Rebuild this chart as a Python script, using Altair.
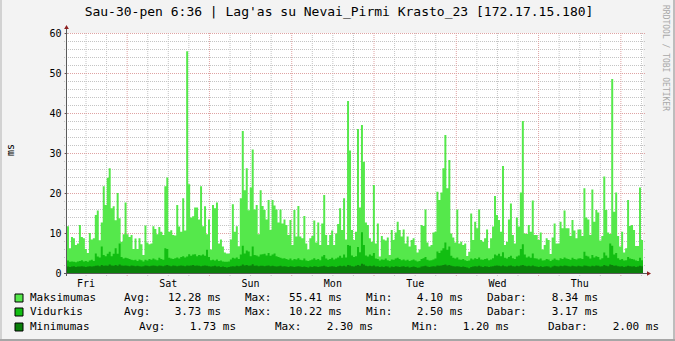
import json
import altair as alt
import pandas as pd

# ------------------------------------------------------------------ data
# round-trip latency (ms), one value per ~35 min column
MAX_1 = [11.7, 6.2, 9.0, 8.7, 7.0, 7.4, 12.0, 9.0, 8.7, 6.0, 5.0, 10.0, 8.4, 8.7, 14.5, 15.6, 8.2, 12.6, 21.7, 17.0,
         23.8, 26.2, 16.2, 16.7, 13.2, 20.0, 13.7, 7.8, 9.7, 17.6, 9.7, 9.0, 9.5, 6.0, 8.6, 6.0, 8.7, 7.2, 4.5, 11.9,
         7.6, 7.2, 7.4, 11.7, 11.0, 9.7, 11.5, 10.3, 9.5]
MAX_2 = [21.7, 23.9, 10.3, 10.7, 9.5, 9.4, 17.0, 11.6, 10.3, 18.7, 10.6, 55.41, 22.2, 13.9, 14.2, 16.4, 16.4, 13.4, 21.7, 11.7,
         16.7, 9.7, 13.4, 5.9, 17.0, 16.2, 17.6, 7.4, 8.4, 6.6, 5.1, 4.9, 4.9, 8.4, 17.2, 10.3, 11.7, 6.7, 18.7, 35.5,
         20.7, 26.2, 15.7, 21.4, 30.9, 15.9, 17.0, 9.7, 20.7]
MAX_3 = [16.75, 15.75, 13.4, 18.25, 10.75, 18.25, 16.9, 15.9, 12.6, 15.9, 12.4, 13.4, 12.0, 9.5, 13.25, 7.0, 15.75, 9.1, 16.75, 9.1,
         8.7, 14.25, 7.4, 5.9, 8.7, 9.25, 13.1, 7.6, 12.6, 7.0, 12.4, 19.5, 9.5, 7.0, 9.5, 10.6, 7.0, 9.9, 12.25, 16.2,
         10.75, 18.7, 8.4, 43.0, 30.6, 10.75, 8.25, 10.3]
MAX_4 = [36.0, 16.4, 37.0, 27.8, 12.6, 12.0, 8.7, 7.8, 22.0, 7.4, 12.4, 4.1, 9.25, 8.4, 8.1, 8.9, 4.5, 10.75, 8.25, 10.1,
         12.8, 10.75, 9.1, 10.9, 7.4, 9.1, 6.6, 8.25, 8.7, 7.0, 5.1, 5.9, 12.0, 11.75, 15.9, 7.6, 6.6, 7.0, 10.1, 10.3,
         20.3, 18.25, 20.1, 26.2, 34.5, 21.2, 28.25, 9.9, 8.9, 7.6]
MAX_5 = [15.9, 7.4, 7.8, 7.0, 7.4, 4.25, 5.3, 14.9, 8.25, 12.8, 11.2, 15.9, 8.25, 7.8, 8.7, 10.9, 6.2, 8.7, 11.6, 19.25,
         14.5, 13.25, 10.3, 26.75, 7.0, 7.8, 13.4, 17.4, 9.5, 7.4, 13.9, 11.6, 20.1, 38.0, 9.9, 9.75, 12.0, 10.3, 18.1, 9.5,
         9.5, 8.25, 10.1, 5.9, 7.0, 8.7, 8.25, 4.75, 8.9]
MAX_6 = [12.4, 7.4, 7.4, 12.8, 11.2, 15.6, 11.2, 11.2, 9.25, 13.25, 10.6, 8.7, 10.9, 10.9, 9.25, 21.2, 13.9, 13.4, 9.5, 20.9,
         12.8, 15.75, 15.1, 8.1, 9.25, 24.1, 15.75, 10.1, 9.75, 48.5, 15.3, 20.1, 9.25, 6.6, 10.3, 5.1, 6.2, 18.25, 11.75, 12.0,
         10.75, 6.75, 6.75, 21.4, 8.25]

AVG_1 = [3.1, 2.8, 2.9, 2.8, 2.7, 2.9, 3.0, 3.2, 2.9, 3.0, 2.8, 3.1, 3.3, 3.0, 4.9, 4.1, 3.9, 6.6, 4.5, 4.2,
         4.8, 5.3, 4.2, 4.8, 6.2, 4.8, 7.4, 4.0, 3.6, 3.8, 3.7, 3.5, 3.3, 3.2, 3.3, 3.0, 3.4, 3.2, 2.9, 3.3,
         3.1, 3.5, 3.3, 3.6, 3.4, 3.2, 3.8, 3.5, 3.3]
AVG_2 = [6.2, 6.0, 3.8, 3.6, 3.5, 3.7, 3.9, 3.6, 4.0, 4.2, 3.9, 4.1, 4.7, 4.3, 4.6, 4.7, 4.2, 4.5, 4.4, 4.6,
         4.3, 5.8, 4.0, 3.2, 3.3, 3.1, 3.4, 3.0, 3.1, 2.9, 2.8, 2.8, 2.9, 3.4, 3.8, 3.6, 3.9, 3.5, 4.6, 6.8,
         4.9, 5.6, 5.4, 4.2, 6.6, 4.5, 4.4, 4.1, 4.6]
AVG_3 = [4.7, 4.8, 4.4, 5.0, 4.3, 4.6, 4.9, 4.2, 4.0, 3.8, 3.6, 3.7, 3.5, 3.3, 3.6, 3.2, 3.5, 3.4, 3.7, 3.3,
         3.2, 3.6, 3.1, 3.0, 3.2, 3.4, 3.7, 3.3, 3.5, 3.2, 4.1, 4.5, 3.6, 3.3, 3.5, 3.8, 3.4, 3.6, 3.9, 4.3,
         3.8, 4.6, 3.9, 7.0, 6.8, 4.4, 4.0, 4.2]
AVG_4 = [6.5, 5.2, 10.2, 7.0, 4.4, 4.1, 4.6, 4.3, 5.0, 3.6, 3.5, 3.1, 3.4, 3.3, 3.6, 3.2, 3.0, 3.4, 3.3, 3.6,
         3.8, 3.5, 3.2, 3.4, 3.1, 3.3, 3.0, 3.2, 3.4, 3.1, 2.9, 3.0, 3.5, 3.7, 4.0, 3.3, 3.1, 3.2, 3.4, 3.6,
         5.4, 5.0, 5.6, 6.2, 7.6, 5.8, 6.6, 4.3, 3.8, 3.6]
AVG_5 = [3.9, 3.4, 3.3, 3.5, 3.2, 3.0, 3.1, 3.6, 3.4, 3.7, 3.5, 3.9, 3.4, 3.3, 3.5, 3.6, 3.2, 3.4, 3.7, 4.6,
         4.4, 4.8, 4.2, 5.2, 3.8, 3.6, 4.0, 4.3, 3.7, 3.5, 4.1, 4.4, 6.0, 7.2, 4.6, 3.9, 4.1, 3.8, 4.9, 3.7,
         3.6, 3.4, 3.6, 3.1, 3.2, 3.5, 3.4, 3.0, 3.3]
AVG_6 = [3.6, 3.3, 3.2, 3.7, 3.5, 3.9, 3.6, 3.5, 3.3, 3.8, 3.5, 3.4, 3.6, 3.7, 3.5, 5.3, 4.3, 4.1, 3.6, 4.5,
         3.9, 4.2, 4.0, 3.4, 3.7, 5.1, 4.4, 3.8, 7.4, 6.8, 4.6, 5.0, 3.7, 3.3, 3.5, 3.1, 3.2, 4.0, 3.6, 3.5,
         3.4, 3.1, 3.0, 3.8, 3.2]

MIN_1 = [1.6, 1.5, 1.6, 1.7, 1.5, 1.6, 1.6, 1.7, 1.6, 1.5, 1.6, 1.7, 1.6, 1.7, 1.8, 1.9, 1.7, 2.0, 1.8, 1.9,
         1.8, 2.1, 1.9, 1.8, 2.0, 1.8, 2.1, 1.9, 1.8, 1.9, 1.8, 1.7, 1.9, 1.8, 1.7, 1.8, 1.7, 1.6, 1.7, 1.9,
         1.8, 1.7, 1.8, 1.9, 1.8, 1.7, 1.9, 1.8, 1.7]
MIN_2 = [1.9, 2.0, 1.8, 1.7, 1.9, 1.8, 1.7, 1.8, 1.9, 1.8, 1.7, 1.9, 1.8, 1.9, 2.0, 1.8, 1.9, 1.8, 1.7, 1.8,
         1.9, 1.8, 1.7, 1.6, 1.7, 1.8, 1.6, 1.7, 1.5, 1.6, 1.5, 1.4, 1.5, 1.6, 1.7, 1.6, 1.8, 1.7, 1.8, 2.1,
         1.9, 2.0, 1.8, 1.9, 2.2, 1.8, 1.9, 1.7, 1.8]
MIN_3 = [1.8, 1.7, 1.8, 1.9, 1.7, 1.8, 1.7, 1.6, 1.7, 1.8, 1.6, 1.7, 1.6, 1.5, 1.7, 1.6, 1.5, 1.6, 1.7, 1.6,
         1.5, 1.6, 1.5, 1.4, 1.6, 1.5, 1.7, 1.6, 1.5, 1.6, 1.7, 1.8, 1.6, 1.5, 1.6, 1.7, 1.6, 1.5, 1.7, 1.8,
         1.7, 1.8, 1.6, 2.0, 1.9, 1.7, 1.6, 1.8]
MIN_4 = [2.0, 1.8, 2.3, 2.1, 1.8, 1.7, 1.8, 1.7, 1.9, 1.6, 1.7, 1.5, 1.6, 1.5, 1.7, 1.6, 1.4, 1.6, 1.5, 1.7,
         1.6, 1.5, 1.6, 1.7, 1.5, 1.6, 1.4, 1.5, 1.6, 1.5, 1.3, 1.4, 1.6, 1.7, 1.8, 1.6, 1.5, 1.6, 1.7, 1.6,
         1.9, 1.8, 1.9, 2.0, 2.1, 1.9, 2.0, 1.8, 1.7, 1.6]
MIN_5 = [1.7, 1.6, 1.5, 1.6, 1.5, 1.4, 1.2, 1.5, 1.6, 1.7, 1.6, 1.8, 1.6, 1.5, 1.7, 1.6, 1.5, 1.6, 1.7, 1.8,
         1.9, 1.8, 1.7, 1.9, 1.7, 1.6, 1.8, 1.9, 1.7, 1.6, 1.8, 1.7, 1.9, 2.0, 1.8, 1.7, 1.8, 1.7, 1.9, 1.7,
         1.6, 1.5, 1.7, 1.5, 1.6, 1.7, 1.6, 1.4, 1.6]
MIN_6 = [1.8, 1.7, 1.6, 1.8, 1.7, 1.9, 1.8, 1.7, 1.6, 1.8, 1.7, 1.6, 1.8, 1.7, 1.6, 1.9, 1.8, 1.7, 1.6, 1.8,
         1.7, 1.9, 1.8, 1.6, 1.7, 2.0, 1.8, 1.7, 2.1, 2.0, 1.8, 1.9, 1.7, 1.6, 1.7, 1.5, 1.6, 1.8, 1.7, 1.6,
         1.7, 1.5, 1.6, 1.8, 1.7]

MAX_MS = MAX_1 + MAX_2 + MAX_3 + MAX_4 + MAX_5 + MAX_6
AVG_MS = AVG_1 + AVG_2 + AVG_3 + AVG_4 + AVG_5 + AVG_6
MIN_MS = MIN_1 + MIN_2 + MIN_3 + MIN_4 + MIN_5 + MIN_6

SPAN_HOURS = 168          # one week
START_CLOCK = 6.6         # graph starts Fri 06:36
DAYS = ["Fri", "Sat", "Sun", "Mon", "Tue", "Wed", "Thu"]
Y_TICKS = [0, 10, 20, 30, 40, 50, 60]

TITLE = "Sau-30-pen 6:36 | Lag'as su Nevai_Pirmi Krasto_23 [172.17.15.180]"
SERIES = ["Maksimumas", "Vidurkis", "Minimumas"]
STAT_AVG = ["12.28", "3.73", "1.73"]
STAT_MAX = ["55.41", "10.22", "2.30"]
STAT_MIN = ["4.10", "2.50", "1.20"]
STAT_NOW = ["8.34", "3.17", "2.00"]

# ------------------------------------------------------------------ style / layout
FONT = "DejaVu Sans Mono"
C_MAX, C_AVG, C_MIN = "#55E84B", "#12BE12", "#0A800A"
COLORS = [C_MAX, C_AVG, C_MIN]
W, H = 576, 240
PL, PT, PR, PB = 67, 33, 32, 68
GRID_MINOR = "#C4C4C4"
GRID_MAJOR = "#DFA3A3"
AXIS_C = "#5A5A5A"
ARROW_C = "#8E1F1F"

xs = alt.Scale(domain=[0, SPAN_HOURS], nice=False, zero=False)
ys = alt.Scale(domain=[0, 60], nice=False)

# ------------------------------------------------------------------ tables
n = min(len(MAX_MS), len(AVG_MS), len(MIN_MS))
step = SPAN_HOURS / n
rows = []
for i in range(n + 1):
    j = min(i, n - 1)
    rows.append({"h": i * step, "mx": MAX_MS[j], "av": AVG_MS[j], "mn": MIN_MS[j]})
series = pd.DataFrame(rows)

first_noon = 12 - START_CLOCK
vt = []
k = 0
while first_noon + 6 * k < SPAN_HOURS:
    vt.append(first_noon + 6 * k)
    k += 1
v_major = pd.DataFrame({"h": [t for i, t in enumerate(vt) if i % 4 == 2]})
v_minor = pd.DataFrame({"h": [t for i, t in enumerate(vt) if i % 4 != 2]})
h_minor = pd.DataFrame({"v": [v for v in range(2, 60, 2) if v % 10]})
h_major = pd.DataFrame({"v": [v for v in range(10, 61, 10)]})
one = pd.DataFrame({"k": [0]})

# ------------------------------------------------------------------ axes (identical in every layer so they merge)
label_expr = json.dumps(DAYS) + f"[round((datum.value - {first_noon}) / 24)]"
x_axis = alt.Axis(values=[first_noon + 24 * d for d in range(len(DAYS))], labelExpr=label_expr,
                  title=None, domain=False, grid=False, ticks=False, labelFont=FONT, labelFontSize=10,
                  labelColor="#000000", labelPadding=5, labelOverlap=False)
y_axis = alt.Axis(values=Y_TICKS, title=None, domain=False, grid=False, tickSize=3, tickColor=AXIS_C,
                  labelFont=FONT, labelFontSize=10, labelColor="#000000", labelPadding=3,
                  labelOverlap=False, labelFlush=False)


def X(f):
    return alt.X(f, scale=xs, axis=x_axis)


def Y(f):
    return alt.Y(f, scale=ys, axis=y_axis)


# ------------------------------------------------------------------ layers
grid_h_minor = alt.Chart(h_minor).mark_rule(color=GRID_MINOR, strokeDash=[1, 1], yOffset=0.5).encode(
    y=Y("v:Q"), x=alt.value(-3), x2=alt.value(W + 3))
grid_v_minor = alt.Chart(v_minor).mark_rule(color=GRID_MINOR, strokeDash=[1, 1], xOffset=0.5).encode(
    x=X("h:Q"), y=alt.value(0), y2=alt.value(H + 3))
grid_h_major = alt.Chart(h_major).mark_rule(color=GRID_MAJOR, strokeDash=[1, 1], yOffset=0.5).encode(
    y=Y("v:Q"), x=alt.value(-3), x2=alt.value(W + 3))
grid_v_major = alt.Chart(v_major).mark_rule(color=GRID_MAJOR, strokeDash=[1, 1], xOffset=0.5).encode(
    x=X("h:Q"), y=alt.value(0), y2=alt.value(H + 3))

area_max = alt.Chart(series).mark_area(interpolate="step-after", color=C_MAX, opacity=1).encode(
    x=X("h:Q"), y=Y("mx:Q"))
area_avg = alt.Chart(series).mark_area(interpolate="step-after", color=C_AVG, opacity=1).encode(
    x=X("h:Q"), y=Y("av:Q"))
area_min = alt.Chart(series).mark_area(interpolate="step-after", color=C_MIN, opacity=1).encode(
    x=X("h:Q"), y=Y("mn:Q"))

axis_bottom = alt.Chart(one).mark_rule(color=AXIS_C, yOffset=0.5).encode(
    x=alt.value(-3), x2=alt.value(W + 5), y=alt.value(H))
axis_left = alt.Chart(one).mark_rule(color=AXIS_C, xOffset=-0.5).encode(
    x=alt.value(0), y=alt.value(-4), y2=alt.value(H + 3))
arrow_up = alt.Chart(one).mark_point(shape="triangle-up", filled=True, size=22, color=ARROW_C, opacity=1).encode(
    x=alt.value(-0.5), y=alt.value(-6))
arrow_right = alt.Chart(one).mark_point(shape="triangle-right", filled=True, size=22, color=ARROW_C, opacity=1).encode(
    x=alt.value(W + 6), y=alt.value(H + 0.5))

title = alt.Chart(one).mark_text(text=TITLE, font=FONT, fontSize=13, color="#000000", baseline="middle",
                                 align="center").encode(x=alt.value(272), y=alt.value(-21))
ylab = alt.Chart(one).mark_text(text="ms", font=FONT, fontSize=10, color="#000000", angle=270,
                                baseline="middle", align="center").encode(x=alt.value(-56), y=alt.value(117))
brand = alt.Chart(one).mark_text(text="RRDTOOL / TOBI OETIKER", font=FONT, fontSize=8, color="#A8A8A8",
                                 angle=90, baseline="middle", align="left").encode(x=alt.value(598), y=alt.value(-28))


# frame of the canvas
def strip(x0, x1, y0, y1, c):
    return alt.Chart(one).mark_rect(color=c, opacity=1).encode(
        x=alt.value(x0), x2=alt.value(x1), y=alt.value(y0), y2=alt.value(y1))


frame = [strip(-PL, -PL + 2, -PT, H + PB, "#D2D2D2"),
         strip(W + PR - 2, W + PR, -PT, H + PB, "#BDBDBD"),
         strip(-PL, W + PR, H + PB - 2, H + PB, "#A6A6A6")]

# legend
ROW_Y = [298, 312, 327]                     # absolute text centres
COLS_A = [124, 221, 245, 342, 366, 463, 487, 598]
COLS_B = [139, 236, 275, 373, 412, 509, 548, 659]
left_rows, right_rows, boxes = [], [], []
for r, name in enumerate(SERIES):
    cols = COLS_A if r < 2 else COLS_B
    y = ROW_Y[r] - PT
    left_rows.append({"t": name, "px": 30 - PL, "py": y})
    for lbl, cx in zip(["Avg:", "Max:", "Min:", "Dabar:"], cols[0::2]):
        left_rows.append({"t": lbl, "px": cx - PL, "py": y})
    for val, cx in zip([STAT_AVG[r], STAT_MAX[r], STAT_MIN[r], STAT_NOW[r]], cols[1::2]):
        right_rows.append({"t": val + " ms", "px": cx - PL, "py": y})
    boxes.append({"x0": 15 - PL, "x1": 23 - PL, "y0": y - 4, "y1": y + 4, "c": COLORS[r]})

leg_left = alt.Chart(pd.DataFrame(left_rows)).mark_text(font=FONT, fontSize=11, color="#000000",
                                                         align="left", baseline="middle").encode(
    x=alt.X("px:Q", scale=None), y=alt.Y("py:Q", scale=None), text="t:N")
leg_right = alt.Chart(pd.DataFrame(right_rows)).mark_text(font=FONT, fontSize=11, color="#000000",
                                                           align="right", baseline="middle").encode(
    x=alt.X("px:Q", scale=None), y=alt.Y("py:Q", scale=None), text="t:N")
leg_box = alt.Chart(pd.DataFrame(boxes)).mark_rect(stroke="#000000", strokeWidth=1, opacity=1).encode(
    x=alt.X("x0:Q", scale=None), x2="x1:Q", y=alt.Y("y0:Q", scale=None), y2="y1:Q",
    color=alt.Color("c:N", scale=None))

chart = alt.layer(
    grid_h_minor, grid_v_minor, grid_h_major, grid_v_major,
    area_max, area_avg, area_min,
    axis_bottom, axis_left, arrow_up, arrow_right,
    title, ylab, brand, *frame, leg_box, leg_left, leg_right,
).properties(
    width=W, height=H, autosize="none",
    padding={"left": PL, "top": PT, "right": PR, "bottom": PB},
    background="#F3F3F3",
).configure_view(strokeWidth=0, fill="#FFFFFF")

chart.save("out.html", embed_options={"renderer": "svg", "actions": False})
